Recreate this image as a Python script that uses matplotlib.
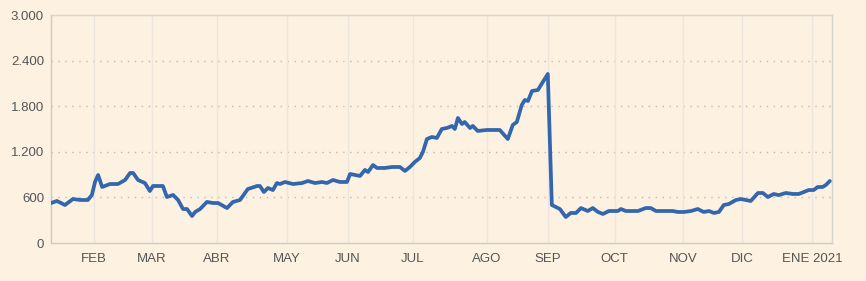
import matplotlib
matplotlib.use("Agg")
import matplotlib.pyplot as plt
from matplotlib.ticker import FuncFormatter

# Trading-session index (x) and value (y)
session = [0.0, 1.9, 4.5, 7.1, 9.4, 11.9, 13.2, 14.2, 15.2, 16.5, 19.0, 21.6, 23.9, 25.5,
           26.5, 28.1, 30.3, 31.9, 32.9, 36.1, 37.4, 39.4, 41.0, 42.6, 43.9, 45.5, 46.5,
           48.1, 50.3, 52.3, 53.9, 56.8, 58.7, 61.0, 63.5, 66.5, 67.4, 68.7, 70.0, 71.6,
           72.9, 73.9, 75.5, 78.1, 81.0, 82.9, 85.2, 87.4, 89.0, 91.0, 93.2, 95.5, 96.5,
           99.7, 101.3, 102.3, 103.9, 105.2, 107.7, 110.0, 112.6, 114.2, 115.8, 117.4,
           119.0, 120.0, 121.3, 122.9, 124.5, 126.1, 127.7, 129.4, 130.3, 131.3, 132.6,
           133.5, 135.2, 136.1, 137.7, 140.6, 144.8, 147.4, 149.0, 150.3, 151.9, 152.9,
           153.9, 155.2, 157.1, 158.7, 160.3, 161.6, 164.2, 166.1, 167.7, 169.4, 171.0,
           173.2, 174.8, 176.5, 178.1, 180.0, 182.9, 183.9, 185.5, 189.4, 191.9, 193.5,
           195.2, 200.6, 202.3, 204.2, 206.5, 208.7, 210.6, 212.3, 213.9, 215.5, 217.1,
           218.7, 221.0, 222.6, 224.2, 225.8, 228.1, 229.7, 231.3, 233.2, 234.8, 237.1,
           239.4, 241.3, 242.9, 244.5, 246.1, 247.4, 249.0, 250.0, 251.3]
values = [526, 553, 500, 579, 566, 566, 632, 803, 895, 737, 776, 776, 829, 921,
          921, 829, 789, 684, 750, 750, 605, 632, 566, 447, 447, 355, 408,
          447, 540, 526, 526, 460, 540, 566, 710, 750, 750, 671, 724, 697,
          789, 776, 803, 776, 789, 816, 789, 803, 789, 829, 803, 803, 908,
          882, 961, 934, 1026, 987, 987, 1000, 1000, 948, 1000, 1066,
          1118, 1198, 1368, 1395, 1382, 1500, 1513, 1540, 1500, 1645, 1566,
          1592, 1513, 1540, 1474, 1487, 1487, 1368, 1553, 1592, 1816, 1882,
          1869, 2000, 2013, 2119, 2224, 500, 447, 342, 395, 395, 460,
          421, 460, 408, 382, 421, 421, 447, 421, 421, 460, 460,
          421, 421, 408, 408, 421, 447, 408, 421, 395, 408, 500,
          513, 566, 579, 566, 553, 658, 658, 605, 645, 630, 658,
          645, 645, 671, 697, 697, 737, 737, 763, 816]

month_labels = ["FEB", "MAR", "ABR", "MAY", "JUN", "JUL", "AGO", "SEP", "OCT", "NOV", "DIC", "ENE 2021"]
month_session = [13.9, 32.6, 53.5, 76.1, 95.8, 116.8, 140.6, 160.3, 181.9, 203.9, 222.9, 245.5]
y_ticks = [0, 600, 1200, 1800, 2400, 3000]

BG = "#FDF1E1"
plt.rcParams["font.family"] = ["Liberation Sans", "DejaVu Sans"]

fig = plt.figure(figsize=(8.66, 2.81), dpi=100, facecolor=BG)
ax = fig.add_axes([51/866, 38/281, 781/866, 228/281])
ax.set_facecolor(BG)

ax.plot(session, values, color="#3466AE", lw=2.7, solid_joinstyle="round", solid_capstyle="round", zorder=3)

ax.set_xlim(0, 252)
ax.set_ylim(0, 3000)
ax.set_yticks(y_ticks)
ax.yaxis.set_major_formatter(FuncFormatter(lambda v, p: f"{int(v):,}".replace(",", ".")))
ax.set_xticks(month_session)
ax.set_xticklabels(month_labels)

for y in y_ticks[1:-1]:
    ax.axhline(y, color="#C2B9AC", lw=1.0, ls=(0, (1, 4)), zorder=1)
for x in month_session:
    ax.axvline(x, color="#EDE6E0", lw=1.0, zorder=1)

for s in ax.spines.values():
    s.set_color("#D9D4CE")
    s.set_linewidth(1.0)
ax.spines["left"].set_color("#CFCAC4")
ax.spines["bottom"].set_color("#CFCAC4")

ax.tick_params(axis="both", length=0, labelsize=9.5, labelcolor="#555555")
ax.tick_params(axis="x", pad=7)
ax.tick_params(axis="y", pad=5)

fig.savefig("out.png", dpi=100, facecolor=BG)
